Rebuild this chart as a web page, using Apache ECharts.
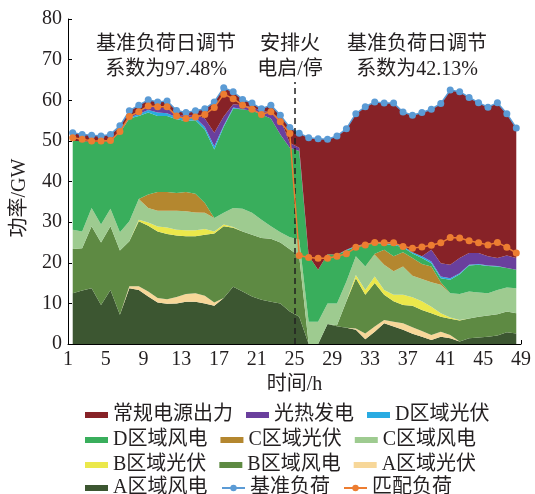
<!DOCTYPE html>
<html>
<head>
<meta charset="utf-8">
<script src="https://cdn.jsdelivr.net/npm/echarts/dist/echarts.min.js"></script>
<style>
  html, body { margin: 0; padding: 0; background: #fff; }
  #chart { width: 535px; height: 494px; }
</style>
</head>
<body>
<div id="chart"></div>
<script>
// 48 periods over two days; period p covers hour p .. p+1
const periods = Array.from({ length: 48 }, (_, i) => i + 1);

// Generation by source, GW (stacked bottom to top)
const windA    = [12.5,13.2,13.7,9.6,13.3,7.2, 13.7,13.3,11.7,10.2,9.9,10.0, 10.4,10.4,10.0,9.4,11.3,14.1, 12.9,11.7,10.9,10.4,10.0,8.0,
                  6.7,0,0,4.9,4.4,4.0, 3.5,1.2,3.0,5.1,4.3,3.5, 2.5,1.8,1.0,1.8,1.4,0.6, 1.4,1.6,1.8,2.1,2.9,2.6];
const solarA   = [0,0,0,0,0,0, 0.5,0.9,1.2,1.1,1.1,1.6, 1.9,2.1,1.9,0.8,0,0, 0,0,0,0,0,0,
                  0,0,0,0,0,0, 0.3,1.4,1.3,0.8,1.2,1.6, 1.6,1.4,1.2,1.2,0.8,0, 0,0,0,0,0,0];
const windB    = [10.9,10.4,15.3,15.4,15.7,15.8, 11.1,16.0,16.2,16.4,16.1,15.1, 14.2,14.0,15.0,17.0,17.7,14.5, 14.8,15.2,15.2,15.5,15.0,15.3,
                  14.9,0,0,0,0.2,6.5, 12.4,9.5,10.7,6.2,5.0,4.5, 5.3,5.2,5.4,3.7,4.0,5.2, 4.9,5.1,5.2,5.2,5.1,5.0];
const solarB   = [0,0,0,0,0,0, 0,0.4,0.8,1.2,1.6,1.4, 1.5,1.5,1.4,0.5,0.4,0.2, 0,0,0,0,0,0,
                  0,0,0,0,0,0, 0.8,1.2,1.6,1.2,1.6,2.5, 2.1,2.1,1.6,0.9,0.3,0.1, 0,0,0,0,0,0];
const windC    = [4.7,4.1,4.5,4.4,4.3,4.5, 4.9,5.1,3.6,3.9,4.1,4.7, 4.7,4.4,4.0,3.3,2.9,4.7, 5.6,5.4,4.5,3.1,2.5,3.0,
                  4.1,5.5,5.5,5.1,5.4,4.9, 4.6,5.8,5.4,6.2,5.8,7.0, 5.3,5.5,6.0,7.0,6.0,6.4, 6.6,6.0,5.5,6.0,5.9,6.1];
const solarC   = [0,0,0,0,0,0, 0,0,3.3,4.6,4.6,4.4, 4.7,4.6,2.4,0,0,0, 0,0,0,0,0,0,
                  0,0,0,0,0,0, 0,0,0.2,3.7,3.7,3.5, 4.4,3.7,3.9,0.6,0,0, 0,0,0,0,0,0];
const windD    = [21.9,22.3,16.2,20.3,16.7,24.5, 25.3,20.4,20.2,18.7,18.7,18.1, 17.5,18.1,18.1,16.9,21.2,24.4, 24.5,25.1,25.9,26.5,24.1,22.0,
                  21.8,16.2,12.8,12.1,12.0,7.6, 2.4,5.3,2.7,1.4,2.8,1.2, 1.1,1.5,0.8,1.0,3.3,4.9, 6.4,6.8,6.7,5.8,4.8,4.6];
const solarD   = [0,0,0,0,0,0, 0.2,0.5,0.6,0.9,0.7,0.5, 0.6,0.6,0.6,0.8,0.3,0.3, 0,0,0,0,0,0,
                  0,0,0,0,0,0.2, 0.2,0.2,0.2,0.2,0.2,0.3, 0.3,0.4,0.4,0.4,0.4,0.2, 0.2,0.2,0.1,0.1,0,0];
const cspPower = [0,0,0,0,0,0, 0.3,0.6,0.9,1.2,1.2,0.7, 0.7,0.8,2.1,3.3,2.2,0.8, 1.0,0.9,0.9,1.5,3.7,1.2,
                  0.8,0,0,0,0,0, 0,0,0,0,0,0, 0,0,2.9,3.3,3.3,3.8, 2.9,2.7,2.3,2.0,3.1,2.9];
const thermal  = [2.0,1.6,1.7,1.5,1.6,1.7, 1.4,1.6,1.6,1.4,1.8,1.0, 0.8,0.9,2.4,7.6,7.1,3.1, 1.4,1.0,0.5,1.8,1.0,3.8,
                  3.6,29.1,32.2,28.3,29.2,29.8, 32.5,33.8,34.5,34.5,34.7,33.0, 33.7,35.4,34.6,39.3,43.0,40.9, 38.3,37.0,36.7,38.2,34.9,32.0];

// Load curves, GW
const baseLoad    = [52.0,51.6,51.4,51.2,51.6,53.7, 57.4,58.8,60.1,59.6,59.8,57.5, 57.0,57.4,57.9,59.6,63.1,62.1, 60.2,59.3,57.9,58.8,56.3,53.3,
                     51.9,50.8,50.5,50.4,51.2,53.0, 56.7,58.4,59.6,59.3,59.3,57.1, 56.3,57.0,57.8,59.2,62.5,62.1, 60.7,59.4,58.3,59.4,56.7,53.2];
const matchedLoad = [50.8,50.4,50.0,50.0,50.1,52.3, 56.0,57.2,58.6,58.4,58.4,56.1, 55.5,55.9,56.5,58.2,61.5,60.4, 58.8,57.8,56.5,57.2,54.7,51.8,
                     21.8,21.3,21.1,21.1,21.6,22.2, 23.8,24.4,25.0,24.9,24.9,24.0, 23.6,23.9,24.3,24.9,26.2,26.1, 25.4,24.9,24.4,25.0,23.8,22.4];

// Hour axis and power axis ticks
const xTicks = { min: 1, max: 49, step: 4 };
const yTicks = { min: 0, max: 80, step: 10 };

// Thermal unit start/stop marker
const switchHour = 25;
const switchMarkTop = 64.5;

// Annotation texts
const noteLeft  = ['基准负荷日调节', '系数为97.48%'];
const noteMid   = ['安排火', '电启/停'];
const noteRight = ['基准负荷日调节', '系数为42.13%'];

const FONT = '"Liberation Serif", "Times New Roman", "Noto Sans CJK SC", serif';
const TEXT_COLOR = '#231f20';

const stackLayers = [
  { name: 'A区域风电',   values: windA,    color: '#3c5631' },
  { name: 'A区域光伏',   values: solarA,   color: '#f7d799' },
  { name: 'B区域风电',   values: windB,    color: '#5e8a43' },
  { name: 'B区域光伏',   values: solarB,   color: '#ebe84b' },
  { name: 'C区域风电',   values: windC,    color: '#9ecb90' },
  { name: 'C区域光伏',   values: solarC,   color: '#b4872f' },
  { name: 'D区域风电',   values: windD,    color: '#39ae5c' },
  { name: 'D区域光伏',   values: solarD,   color: '#29abe2' },
  { name: '光热发电',     values: cspPower, color: '#6a3f9d' },
  { name: '常规电源出力', values: thermal,  color: '#872227' }
];

// Periods sit on a hidden band axis (xAxis 0); the visible hour axis is xAxis 1
const areaSeries = stackLayers.map(layer => ({
  name: layer.name,
  type: 'line',
  xAxisIndex: 0,
  stack: 'generation',
  data: layer.values,
  symbol: 'none',
  lineStyle: { width: 0 },
  areaStyle: { color: layer.color, opacity: 1 },
  itemStyle: { color: layer.color },
  silent: true,
  emphasis: { disabled: true },
  z: 2
}));

const loadLine = (name, values, color, z) => ({
  name,
  type: 'line',
  xAxisIndex: 0,
  data: values,
  symbol: 'circle',
  symbolSize: 7,
  showAllSymbol: true,
  lineStyle: { width: 1.5, color },
  itemStyle: { color },
  silent: true,
  emphasis: { disabled: true },
  z
});

const loadSeries = [
  loadLine('基准负荷', baseLoad, '#5b9bd5', 4),
  loadLine('匹配负荷', matchedLoad, '#ed7d31', 5),
  {
    name: '火电启停',
    type: 'line',
    xAxisIndex: 1,
    data: [],
    silent: true,
    z: 3,
    markLine: {
      silent: true,
      symbol: ['none', 'none'],
      label: { show: false },
      lineStyle: { color: '#222', width: 1.5, type: [6, 4] },
      data: [[{ coord: [switchHour, 0] }, { coord: [switchHour, switchMarkTop] }]]
    }
  }
];

const legendBase = {
  orient: 'horizontal',
  itemGap: 13,
  itemWidth: 23,
  itemHeight: 6,
  selectedMode: false,
  textStyle: { fontSize: 20, fontFamily: FONT, color: TEXT_COLOR }
};
const rectItems = names => names.map(n => ({ name: n, icon: 'rect' }));

const axisLineStyle = { show: true, lineStyle: { color: '#000', width: 1 } };
const axisTickStyle = { show: true, inside: true, length: 4, lineStyle: { color: '#000' } };
const axisLabelStyle = { color: TEXT_COLOR, fontSize: 20, fontFamily: FONT, margin: 6 };

const noteText = (x, y, text) => ({
  type: 'text', x, y, z: 100,
  style: { text, fontSize: 20, fontFamily: FONT, fill: TEXT_COLOR, align: 'center', verticalAlign: 'middle' }
});

const chart = echarts.init(document.getElementById('chart'), null, { renderer: 'canvas' });
chart.setOption({
  animation: false,
  backgroundColor: '#fff',
  grid: { left: 68, right: 14, top: 19, bottom: 150 },
  xAxis: [
    {
      type: 'category', data: periods, boundaryGap: true, position: 'top',
      show: false
    },
    {
      type: 'value', position: 'bottom',
      min: xTicks.min, max: xTicks.max, interval: xTicks.step,
      axisLine: axisLineStyle, axisTick: axisTickStyle, axisLabel: axisLabelStyle,
      splitLine: { show: false },
      name: '时间/h', nameLocation: 'middle', nameGap: 29,
      nameTextStyle: { fontSize: 20, fontFamily: FONT, color: TEXT_COLOR }
    }
  ],
  yAxis: {
    type: 'value', min: yTicks.min, max: yTicks.max, interval: yTicks.step,
    axisLine: axisLineStyle, axisTick: axisTickStyle, axisLabel: axisLabelStyle,
    splitLine: { show: false }
  },
  legend: [
    Object.assign({}, legendBase, { left: 80, top: 400, data: rectItems(['常规电源出力', '光热发电', 'D区域光伏']) }),
    Object.assign({}, legendBase, { left: 80, top: 425, data: rectItems(['D区域风电', 'C区域光伏', 'C区域风电']) }),
    Object.assign({}, legendBase, { left: 80, top: 450, data: rectItems(['B区域光伏', 'B区域风电', 'A区域光伏']) }),
    Object.assign({}, legendBase, { left: 80, top: 473, data: rectItems(['A区域风电']) }),
    Object.assign({}, legendBase, { left: 216, top: 473, itemHeight: 8, data: ['基准负荷', '匹配负荷'] })
  ],
  graphic: [
    {
      type: 'text', x: 20, y: 198, rotation: Math.PI / 2, z: 100,
      style: { text: '功率/GW', fontSize: 20, fontFamily: FONT, fill: TEXT_COLOR, align: 'center', verticalAlign: 'middle' }
    },
    noteText(166, 45, noteLeft[0]),  noteText(166, 70, noteLeft[1]),
    noteText(290, 45, noteMid[0]),   noteText(290, 70, noteMid[1]),
    noteText(417, 45, noteRight[0]), noteText(417, 70, noteRight[1])
  ],
  series: areaSeries.concat(loadSeries)
});
</script>
</body>
</html>
